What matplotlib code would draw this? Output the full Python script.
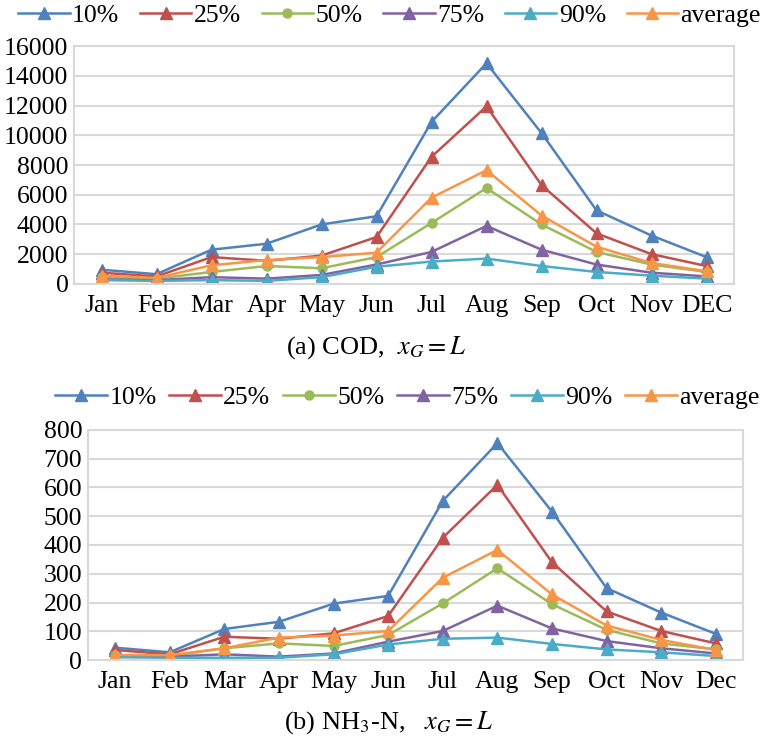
import numpy as np
import matplotlib.pyplot as plt

plt.rcParams['font.family'] = ['Liberation Serif', 'DejaVu Serif']
plt.rcParams['mathtext.fontset'] = 'stix'

months_a = ['Jan', 'Feb', 'Mar', 'Apr', 'May', 'Jun', 'Jul', 'Aug', 'Sep', 'Oct', 'Nov', 'DEC']
months_b = ['Jan', 'Feb', 'Mar', 'Apr', 'May', 'Jun', 'Jul', 'Aug', 'Sep', 'Oct', 'Nov', 'Dec']
labels = ['10%', '25%', '50%', '75%', '90%', 'average']

# COD load
cod_10 = [950, 650, 2300, 2700, 4000, 4550, 10900, 14850, 10150, 4950, 3250, 1800]
cod_25 = [750, 500, 1800, 1550, 1900, 3150, 8550, 11950, 6650, 3400, 2000, 1200]
cod_50 = [450, 350, 800, 1200, 1050, 1800, 4100, 6450, 4000, 2150, 1300, 800]
cod_75 = [300, 250, 450, 350, 600, 1300, 2150, 3900, 2300, 1300, 750, 500]
cod_90 = [250, 200, 250, 200, 450, 1150, 1500, 1700, 1200, 800, 550, 350]
cod_avg = [550, 400, 1250, 1600, 1800, 2100, 5800, 7650, 4600, 2500, 1400, 850]

# NH3-N load
nh_10 = [43, 27, 108, 133, 196, 223, 553, 754, 516, 250, 165, 91]
nh_25 = [35, 20, 81, 74, 93, 153, 425, 609, 340, 169, 101, 58]
nh_50 = [17, 14, 41, 58, 49, 87, 197, 319, 194, 105, 58, 37]
nh_75 = [14, 12, 20, 12, 23, 64, 101, 189, 110, 66, 41, 23]
nh_90 = [10, 8, 8, 8, 20, 54, 74, 78, 56, 37, 27, 14]
nh_avg = [18, 17, 41, 78, 85, 101, 286, 383, 228, 120, 70, 35]

colors = ['#4F81BD', '#C0504D', '#9BBB59', '#8064A2', '#4BACC6', '#F79646']
markers = ['^', '^', 'o', '^', '^', '^']
msizes = [9, 9, 6.5, 9, 9, 9]

fig = plt.figure(figsize=(7.63, 7.45), dpi=100)
ax_a = fig.add_axes([0.097, 0.619, 0.865, 0.319])
ax_b = fig.add_axes([0.115, 0.114, 0.859, 0.309])


def draw(ax, series, months, ymax, ystep):
    x = np.arange(len(months))
    for vals, c, m, ms, lab in zip(series, colors, markers, msizes, labels):
        ax.plot(x, vals, color=c, marker=m, markersize=ms, linewidth=1.8, label=lab)
    ax.set_xlim(-0.5, len(months) - 0.5)
    ax.set_ylim(0, ymax)
    ax.set_yticks(np.arange(0, ymax + 1, ystep))
    ax.set_xticks(x)
    ax.set_xticklabels(months)
    ax.yaxis.grid(True, color='#D9D9D9', linewidth=1.5)
    ax.set_axisbelow(True)
    for s in ax.spines.values():
        s.set_color('#D9D9D9')
        s.set_linewidth(1.5)
    ax.tick_params(axis='both', length=0, labelsize=18.5)
    ax.tick_params(axis='x', pad=8)
    ax.tick_params(axis='y', pad=4)
    return ax


draw(ax_a, [cod_10, cod_25, cod_50, cod_75, cod_90, cod_avg], months_a, 16000, 2000)
draw(ax_b, [nh_10, nh_25, nh_50, nh_75, nh_90, nh_avg], months_b, 800, 100)

leg_kw = dict(ncol=6, frameon=False, fontsize=18.5, handlelength=2.0,
              handletextpad=0.1, borderaxespad=0)
ax_a.legend(loc='center', bbox_to_anchor=(0.5105, 0.979), bbox_transform=fig.transFigure,
            columnspacing=0.8, **leg_kw)
ax_b.legend(loc='center', bbox_to_anchor=(0.534, 0.467), bbox_transform=fig.transFigure,
            columnspacing=0.5, **leg_kw)

fig.text(0.493, 0.534, '(a) COD,  $x_G = L$', ha='center', va='center', fontsize=19)
fig.text(0.509, 0.030, '(b) NH$_3$-N,   $x_G = L$', ha='center', va='center', fontsize=19)

fig.savefig('out.png', dpi=100)
